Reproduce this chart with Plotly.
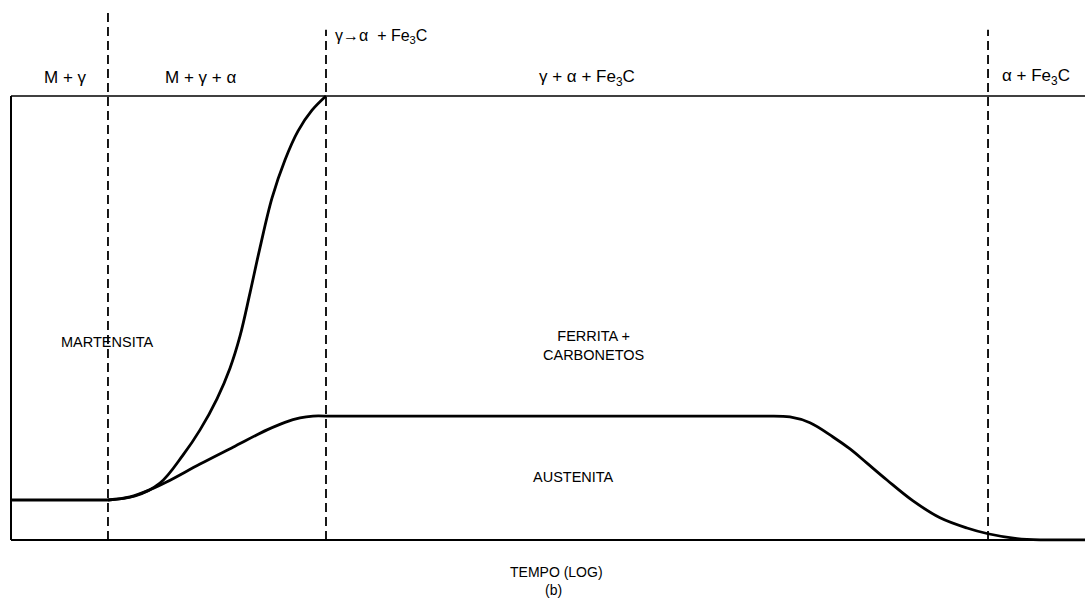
import plotly.graph_objects as go

# log-time axis (0..10) and transformed fraction (0..1)
start_x = [0.0, 0.903]
start_y = [0.090, 0.090]

upper_x = [0.903, 1.155, 1.387, 1.601, 1.760, 1.918, 2.039, 2.132, 2.225, 2.318,
           2.430, 2.551, 2.672, 2.803, 2.933]
upper_y = [0.090, 0.099, 0.128, 0.191, 0.248, 0.318, 0.387, 0.459, 0.556, 0.658,
           0.770, 0.856, 0.921, 0.968, 1.0]

lower_rise_x = [0.903, 1.108, 1.294, 1.453, 1.760, 2.067, 2.384, 2.551, 2.691, 2.812, 2.933]
lower_rise_y = [0.090, 0.097, 0.113, 0.131, 0.171, 0.209, 0.248, 0.265, 0.275, 0.279, 0.279]

plateau_x = [2.933, 7.067]
plateau_y = [0.279, 0.279]

lower_fall_x = [7.067, 7.253, 7.439, 7.654, 7.812, 7.970, 8.156, 8.399, 8.650,
                8.901, 9.097, 9.367, 9.581]
lower_fall_y = [0.279, 0.277, 0.264, 0.232, 0.205, 0.173, 0.135, 0.088, 0.050,
                0.027, 0.014, 0.003, 0.0]

end_x = [9.581, 10.0]
end_y = [0.0, 0.0]

# phase boundaries (dashed) and their upper ends
boundary_x = [0.903, 2.933, 9.097]
boundary_top = [1.189, 1.149, 1.149]

x_min, x_max = 0.0, 10.0

fig = go.Figure()


def line(xs, ys, width, **kw):
    fig.add_trace(go.Scatter(x=xs, y=ys, mode="lines",
                             line=dict(color="black", width=width, **kw),
                             hoverinfo="skip"))


# frame: top, bottom and left edges
line([x_min, x_max], [1, 1], 1.6)
line([x_min, x_max], [0, 0], 2)
line([x_min, x_min], [0, 1], 2)

for bx, bt in zip(boundary_x, boundary_top):
    line([bx, bx], [0, bt], 1.8, dash="9px,5px")

CURVE_W = 2.8
SMOOTH = 1.0
line(start_x, start_y, CURVE_W)
line(upper_x, upper_y, CURVE_W, shape="spline", smoothing=SMOOTH)
line(lower_rise_x, lower_rise_y, CURVE_W, shape="spline", smoothing=SMOOTH)
line(plateau_x, plateau_y, CURVE_W)
line(lower_fall_x, lower_fall_y, CURVE_W, shape="spline", smoothing=SMOOTH)
line(end_x, end_y, CURVE_W)

FONT = "Liberation Sans, Arial, sans-serif"


def label(x, y, text, size, xanchor="center"):
    fig.add_annotation(x=x, y=y, text=text, showarrow=False, xanchor=xanchor,
                       yanchor="middle", font=dict(family=FONT, size=size, color="black"))


label(0.512, 1.041, "M + γ", 17)
label(1.760, 1.041, "M + γ + α", 17)
label(2.998, 1.133, "γ→α  + Fe<sub>3</sub>C", 16, xanchor="left")
label(5.363, 1.041, "γ + α + Fe<sub>3</sub>C", 17)
label(9.209, 1.043, "α + Fe<sub>3</sub>C", 17, xanchor="left")
label(0.898, 0.446, "MARTENSITA", 14.5)
label(5.419, 0.437, "FERRITA +<br>CARBONETOS", 14.5)
label(5.233, 0.142, "AUSTENITA", 14.5)
label(5.075, -0.072, "TEMPO (LOG)", 14)
label(5.047, -0.113, "(b)", 14)

fig.update_layout(
    width=1085, height=611,
    margin=dict(l=0, r=0, t=0, b=0),
    paper_bgcolor="white", plot_bgcolor="white",
    showlegend=False,
    xaxis=dict(range=[-0.1024, 10.0], visible=False),
    yaxis=dict(range=[-0.160, 1.2162], visible=False),
)

fig.write_html("out.html")
